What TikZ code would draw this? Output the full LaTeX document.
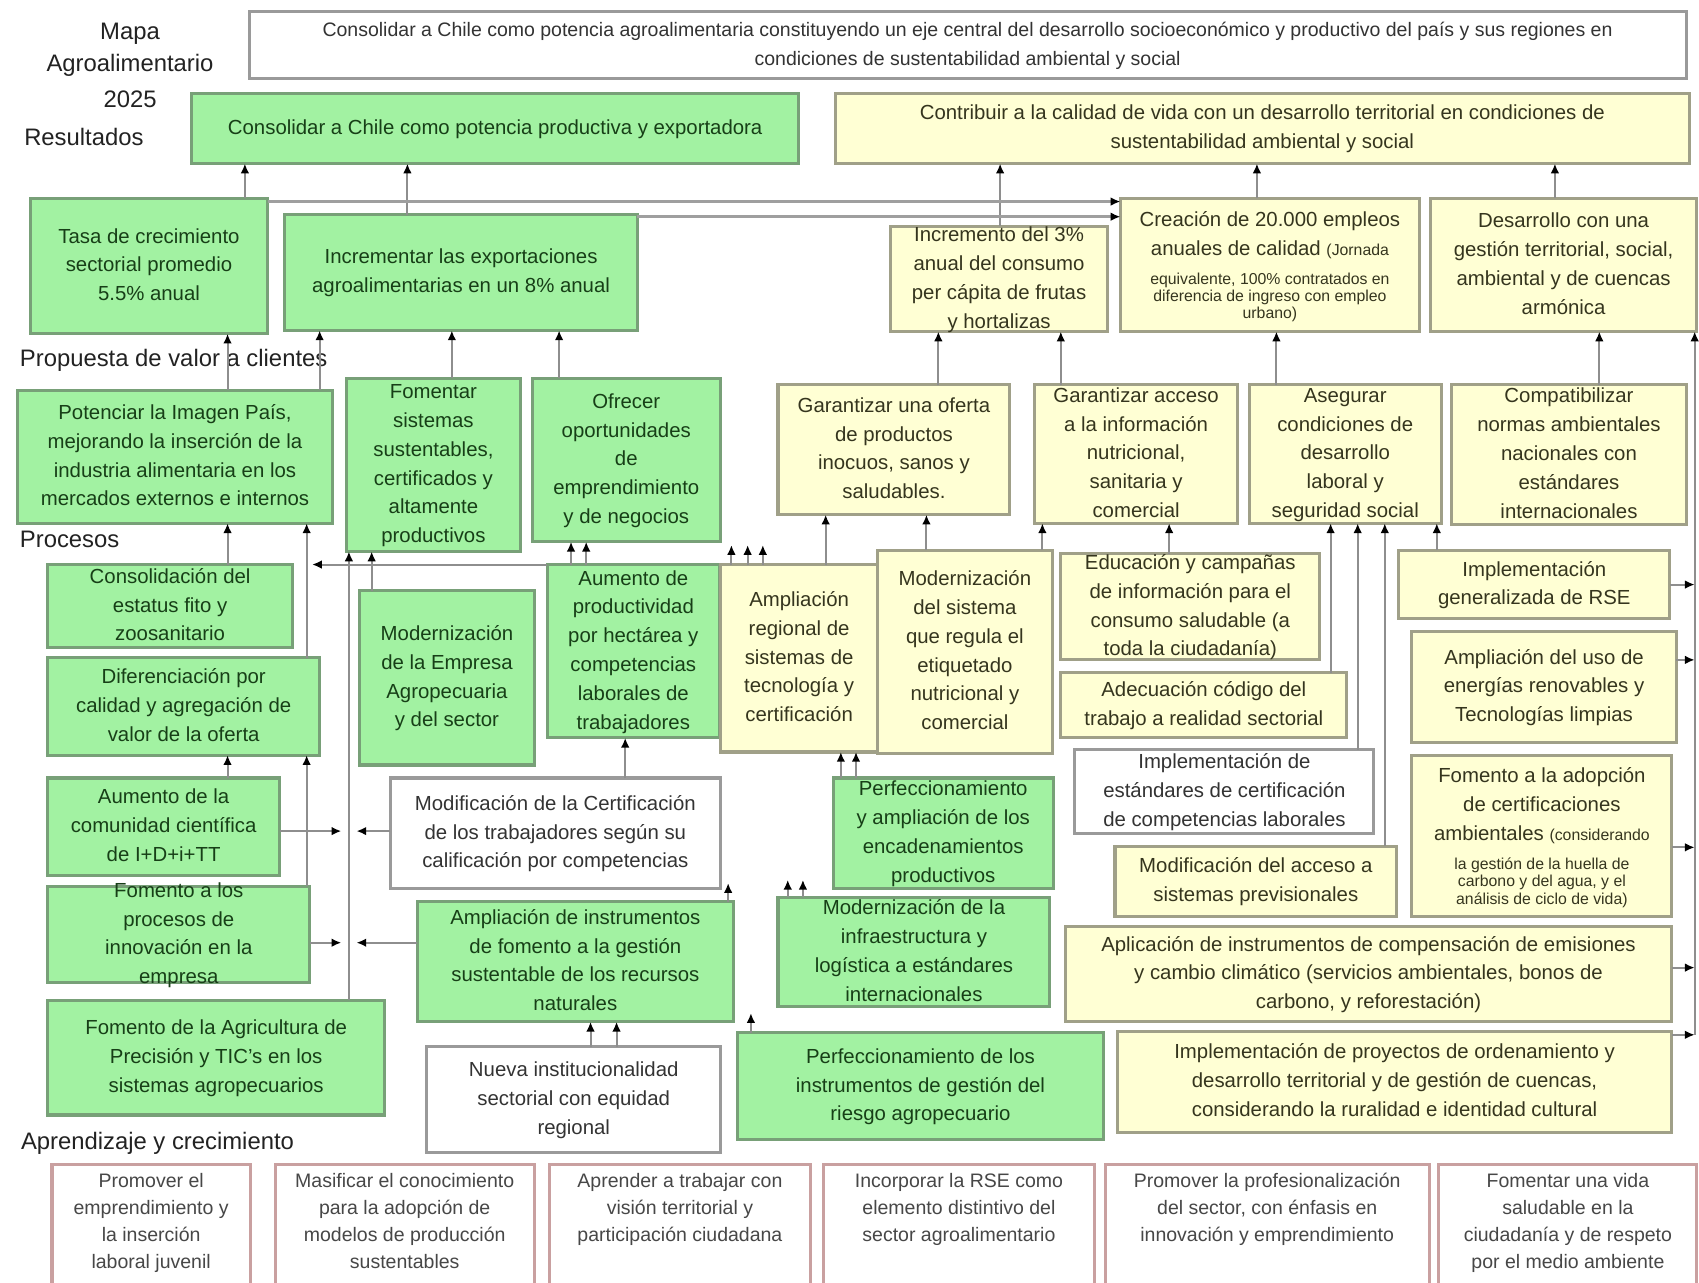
\documentclass[tikz,border=0pt]{standalone}
\usepackage{fontspec}
\setmainfont{Liberation Sans}
\usetikzlibrary{arrows.meta}
\definecolor{gfill}{HTML}{A2F2A2}
\definecolor{gdraw}{HTML}{78A078}
\definecolor{gtext}{HTML}{173F17}
\definecolor{yfill}{HTML}{FFFFD4}
\definecolor{ydraw}{HTML}{A0A088}
\definecolor{ytext}{HTML}{35351E}
\definecolor{wdraw}{HTML}{9A9A9A}
\definecolor{wtext}{HTML}{333333}
\definecolor{pdraw}{HTML}{C9A0A0}
\definecolor{ptext}{HTML}{474747}
\definecolor{ltext}{HTML}{222222}
\definecolor{cline}{HTML}{8E8E8E}
\newcommand\tx[1]{\smash{\raisebox{-2.3pt}{\makebox[0pt]{\begin{tabular}{@{}c@{}}#1\end{tabular}}}}}
\newcommand\sm{\fontsize{7.3}{8}\selectfont}
\newcommand\bx[7]{\node[#6,minimum width={(#4-#2)*0.5pt},minimum height={(#5-#3)*0.5pt}] (#1) at ({(#2+#4)/2},{(#3+#5)/2}) {\tx{#7}};}
\newcommand\pbx[5]{\node[pbox,minimum width={(#3-#2)*0.5pt},minimum height={(1200-1075)*0.5pt}] (#1) at ({(#2+#3)/2},{(1075+1200)/2}) {\smash{\raisebox{#4}{\tx{#5}}}};}
\begin{document}
\begin{tikzpicture}[x=0.5pt,y=-0.5pt,
 box/.style={draw,line width=1.4pt,inner sep=0pt,outer sep=0pt,font=\fontsize{9.4}{13.3}\selectfont},
 gbox/.style={box,fill=gfill,draw=gdraw,text=gtext},
 ybox/.style={box,fill=yfill,draw=ydraw,text=ytext},
 wbox/.style={box,fill=white,draw=wdraw,text=wtext},
 pbox/.style={box,fill=white,draw=pdraw,text=ptext,font=\fontsize{9}{12.5}\selectfont},
 lbl/.style={inner sep=0pt,text=ltext,font=\fontsize{11}{13}\selectfont},
 conn/.style={draw=cline,line width=0.9pt,-{Latex[length=4.5pt,width=4pt,color=black]}},
 band/.style={draw=cline!85,line width=1.3pt,-{Latex[length=4.5pt,width=4pt,color=black]}}]
\useasboundingbox (0,0) rectangle (1568,1184);
\fill[white] (0,0) rectangle (1568,1184);
\clip (0,0) rectangle (1568,1184);

% labels
\node[lbl] (mapa1) at (120,31) {Mapa};
\node[lbl] (mapa2) at (120,60) {Agroalimentario};
\node[lbl] (mapa3) at (120,92) {2025};
\node[lbl,anchor=west] (lres) at (22,126) {Resultados};
\node[lbl,anchor=west] (lprop) at (18,333) {Propuesta de valor a clientes};
\node[lbl,anchor=west] (lproc) at (18,498) {Procesos};
\node[lbl,anchor=west] (lapr) at (19,1055) {Aprendizaje y crecimiento};

% results
\bx{vision}{230}{11}{1556}{72}{wbox,font=\fontsize{9}{13.5}\selectfont}{Consolidar a Chile como potencia agroalimentaria constituyendo un eje central del desarrollo socioeconómico y productivo del país y sus regiones en\\ condiciones de sustentabilidad ambiental y social}
\bx{cons}{177}{86}{737}{151}{gbox}{Consolidar a Chile como potencia productiva y exportadora}
\bx{contrib}{771}{86}{1559}{151}{ybox}{Contribuir a la calidad de vida con un desarrollo territorial en condiciones de\\ sustentabilidad ambiental y social}
\bx{tasa}{28}{183}{247}{308}{gbox}{Tasa de crecimiento\\ sectorial promedio\\ 5.5\% anual}
\bx{incr}{263}{198}{588}{305}{gbox}{Incrementar las exportaciones\\ agroalimentarias en un 8\% anual}
\bx{inc3}{822}{209}{1022}{306}{ybox}{Incremento del 3\%\\ anual del consumo\\ per cápita de frutas\\ y hortalizas}
\bx{crea}{1034}{183}{1310}{306}{ybox}{Creación de 20.000 empleos\\ anuales de calidad {\sm(Jornada}\\ {\sm\begin{tabular}[t]{@{}c@{}}equivalente, 100\% contratados en\\ diferencia de ingreso con empleo\\ urbano)\end{tabular}}}
\bx{desa}{1320}{183}{1566}{306}{ybox}{Desarrollo con una\\ gestión territorial, social,\\ ambiental y de cuencas\\ armónica}

% value proposition
\bx{pot}{16}{360}{307}{483}{gbox}{Potenciar la Imagen País,\\ mejorando la inserción de la\\ industria alimentaria en los\\ mercados externos e internos}
\bx{fom}{320}{349}{480}{509}{gbox}{Fomentar\\ sistemas\\ sustentables,\\ certificados y\\ altamente\\ productivos}
\bx{ofre}{491}{349}{665}{500}{gbox}{Ofrecer\\ oportunidades\\ de\\ emprendimiento\\ y de negocios}
\bx{gofe}{718}{355}{932}{475}{ybox}{Garantizar una oferta\\ de productos\\ inocuos, sanos y\\ saludables.}
\bx{gacc}{955}{355}{1142}{483}{ybox}{Garantizar acceso\\ a la información\\ nutricional,\\ sanitaria y\\ comercial}
\bx{aseg}{1153}{355}{1330}{483}{ybox}{Asegurar\\ condiciones de\\ desarrollo\\ laboral y\\ seguridad social}
\bx{comp}{1340}{355}{1556}{484}{ybox}{Compatibilizar\\ normas ambientales\\ nacionales con\\ estándares\\ internacionales}

% processes
\bx{consol}{44}{521}{270}{598}{gbox}{Consolidación del\\ estatus fito y\\ zoosanitario}
\bx{dif}{44}{607}{295}{697}{gbox}{Diferenciación por\\ calidad y agregación de\\ valor de la oferta}
\bx{aumc}{44}{718}{258}{808}{gbox}{Aumento de la\\ comunidad científica\\ de I+D+i+TT}
\bx{fomp}{44}{818}{286}{907}{gbox}{Fomento a los\\ procesos de\\ innovación en la\\ empresa}
\bx{fagr}{44}{923}{355}{1029}{gbox}{Fomento de la Agricultura de\\ Precisión y TIC's en los\\ sistemas agropecuarios}
\bx{mode}{332}{545}{493}{706}{gbox}{Modernización\\ de la Empresa\\ Agropecuaria\\ y del sector}
\bx{aump}{505}{521}{664}{681}{gbox}{Aumento de\\ productividad\\ por hectárea y\\ competencias\\ laborales de\\ trabajadores}
\bx{ampr}{665}{521}{810}{694}{ybox}{Ampliación\\ regional de\\ sistemas de\\ tecnología y\\ certificación}
\bx{mods}{810}{508}{971}{695}{ybox}{Modernización\\ del sistema\\ que regula el\\ etiquetado\\ nutricional y\\ comercial}
\bx{edu}{979}{511}{1218}{609}{ybox}{Educación y campañas\\ de información para el\\ consumo saludable (a\\ toda la ciudadanía)}
\bx{adec}{979}{621}{1243}{681}{ybox}{Adecuación código del\\ trabajo a realidad sectorial}
\bx{estd}{992}{692}{1268}{769}{wbox}{Implementación de\\ estándares de certificación\\ de competencias laborales}
\bx{moda}{1029}{781}{1289}{846}{ybox}{Modificación del acceso a\\ sistemas previsionales}
\bx{rse}{1291}{508}{1541}{571}{ybox}{Implementación\\ generalizada de RSE}
\bx{ampu}{1303}{583}{1547}{685}{ybox}{Ampliación del uso de\\ energías renovables y\\ Tecnologías limpias}
\bx{fadop}{1303}{697}{1543}{846}{ybox}{Fomento a la adopción\\ de certificaciones\\ ambientales {\sm(considerando}\\ {\sm\begin{tabular}[t]{@{}c@{}}la gestión de la huella de\\ carbono y del agua, y el\\ análisis de ciclo de vida)\end{tabular}}}
\bx{apli}{983}{855}{1543}{943}{ybox}{Aplicación de instrumentos de compensación de emisiones\\ y cambio climático (servicios ambientales, bonos de\\ carbono, y reforestación)}
\bx{impl}{1031}{952}{1543}{1045}{ybox}{Implementación de proyectos de ordenamiento y\\ desarrollo territorial y de gestión de cuencas,\\ considerando la ruralidad e identidad cultural}
\bx{modc}{360}{718}{665}{820}{wbox}{Modificación de la Certificación\\ de los trabajadores según su\\ calificación por competencias}
\bx{ampi}{385}{832}{677}{943}{gbox}{Ampliación de instrumentos\\ de fomento a la gestión\\ sustentable de los recursos\\ naturales}
\bx{perfe}{769}{718}{972}{820}{gbox}{Perfeccionamiento\\ y ampliación de los\\ encadenamientos\\ productivos}
\bx{modi}{718}{828}{969}{929}{gbox}{Modernización de la\\ infraestructura y\\ logística a estándares\\ internacionales}
\bx{nueva}{394}{966}{665}{1064}{wbox}{Nueva institucionalidad\\ sectorial con equidad\\ regional}
\bx{perfr}{681}{953}{1018}{1052}{gbox}{Perfeccionamiento de los\\ instrumentos de gestión del\\ riesgo agropecuario}

% learning and growth
\pbx{ap1}{48}{231}{4.5pt}{Promover el\\ emprendimiento y\\ la inserción\\ laboral juvenil}
\pbx{ap2}{254}{493}{4.5pt}{Masificar el conocimiento\\ para la adopción de\\ modelos de producción\\ sustentables}
\pbx{ap3}{507}{748}{10.75pt}{Aprender a trabajar con\\ visión territorial y\\ participación ciudadana}
\pbx{ap4}{760}{1010}{10.75pt}{Incorporar la RSE como\\ elemento distintivo del\\ sector agroalimentario}
\pbx{ap5}{1020}{1319}{10.75pt}{Promover la profesionalización\\ del sector, con énfasis en\\ innovación y emprendimiento}
\pbx{ap6}{1328}{1566}{4.5pt}{Fomentar una vida\\ saludable en la\\ ciudadanía y de respeto\\ por el medio ambiente}

% connectors: results
\draw[conn] (226,0 |- tasa.north) -- (226,0 |- cons.south);
\draw[conn] (376,0 |- incr.north) -- (376,0 |- cons.south);
\draw[conn] (923,0 |- inc3.north) -- (923,0 |- contrib.south);
\draw[conn] (1160,0 |- crea.north) -- (1160,0 |- contrib.south);
\draw[conn] (1435,0 |- desa.north) -- (1435,0 |- contrib.south);
\coordinate (bandA) at (247,186);
\coordinate (bandB) at (588,200);
\draw[band] (bandA) -- (bandA -| crea.west);
\draw[band] (bandB) -- (bandB -| crea.west);

% value proposition -> results
\draw[conn] (210,0 |- pot.north) -- (210,0 |- tasa.south);
\draw[conn] (295,0 |- pot.north) -- (295,0 |- incr.south);
\draw[conn] (417,0 |- fom.north) -- (417,0 |- incr.south);
\draw[conn] (516,0 |- ofre.north) -- (516,0 |- incr.south);
\draw[conn] (866,0 |- gofe.north) -- (866,0 |- inc3.south);
\draw[conn] (979,0 |- gacc.north) -- (979,0 |- inc3.south);
\draw[conn] (1178,0 |- aseg.north) -- (1178,0 |- crea.south);
\draw[conn] (1476,0 |- comp.north) -- (1476,0 |- desa.south);

% processes -> value proposition
\draw[conn] (210,0 |- consol.north) -- (210,0 |- pot.south);
\draw[conn] (283,0 |- dif.north) -- (283,0 |- pot.south);
\draw[conn] (210,0 |- aumc.north) -- (210,0 |- dif.south);
\draw[conn] (283,0 |- fomp.north) -- (283,0 |- dif.south);
\draw[conn] (322,0 |- fagr.north) -- (322,0 |- fom.south);
\draw[conn] (343,0 |- mode.north) -- (343,0 |- fom.south);
\coordinate (busL) at (288,521);
\draw[conn] (aump.north west) -- (busL);
\coordinate (j1) at (315,767);
\coordinate (j2) at (329,767);
\coordinate (j3) at (315,870);
\coordinate (j4) at (329,870);
\draw[conn] (aumc.east |- j1) -- (j1);
\draw[conn] (modc.west |- j2) -- (j2);
\draw[conn] (fomp.east |- j3) -- (j3);
\draw[conn] (ampi.west |- j4) -- (j4);
\draw[conn] (527,0 |- aump.north) -- (527,0 |- ofre.south);
\draw[conn] (541,0 |- aump.north) -- (541,0 |- ofre.south);
\coordinate (s1) at (675,503);
\coordinate (s2) at (690,503);
\coordinate (s3) at (704,503);
\draw[conn] (s1 |- ampr.north) -- (s1);
\draw[conn] (s2 |- ampr.north) -- (s2);
\draw[conn] (s3 |- ampr.north) -- (s3);
\draw[conn] (762,0 |- ampr.north) -- (762,0 |- gofe.south);
\draw[conn] (855,0 |- mods.north) -- (855,0 |- gofe.south);
\draw[conn] (962,0 |- mods.north) -- (962,0 |- gacc.south);
\draw[conn] (1079,0 |- edu.north) -- (1079,0 |- gacc.south);
\draw[conn] (1228,0 |- adec.north) -- (1228,0 |- aseg.south);
\draw[conn] (1253,0 |- estd.north) -- (1253,0 |- aseg.south);
\draw[conn] (1278,0 |- moda.north) -- (1278,0 |- aseg.south);
\draw[conn] (1326,0 |- rse.north) -- (1326,0 |- aseg.south);
\draw[conn] (577,0 |- modc.north) -- (577,0 |- aump.south);
\coordinate (s4) at (672,815);
\coordinate (s5) at (727,812);
\coordinate (s6) at (741,812);
\coordinate (s7) at (693,935);
\draw[conn] (s4 |- ampi.north) -- (s4);
\draw[conn] (s5 |- modi.north) -- (s5);
\draw[conn] (s6 |- modi.north) -- (s6);
\draw[conn] (s7 |- perfr.north) -- (s7);
\draw[conn] (776,0 |- perfe.north) -- (776,0 |- ampr.south);
\draw[conn] (790,0 |- perfe.north) -- (790,0 |- ampr.south);
\draw[conn] (545,0 |- nueva.north) -- (545,0 |- ampi.south);
\draw[conn] (569,0 |- nueva.north) -- (569,0 |- ampi.south);

% right side bus
\coordinate (rvb) at (1564,955);
\draw[conn] (rvb) -- (rvb |- desa.south);
\draw[conn] (rse.east) -- (rse.east -| rvb);
\draw[conn] (ampu.east |- 0,609) -- (rvb |- 0,609);
\draw[conn] (fadop.east |- 0,782) -- (rvb |- 0,782);
\draw[conn] (apli.east |- 0,893) -- (rvb |- 0,893);
\draw[conn] (impl.east |- rvb) -- (rvb);
\end{tikzpicture}
\end{document}
